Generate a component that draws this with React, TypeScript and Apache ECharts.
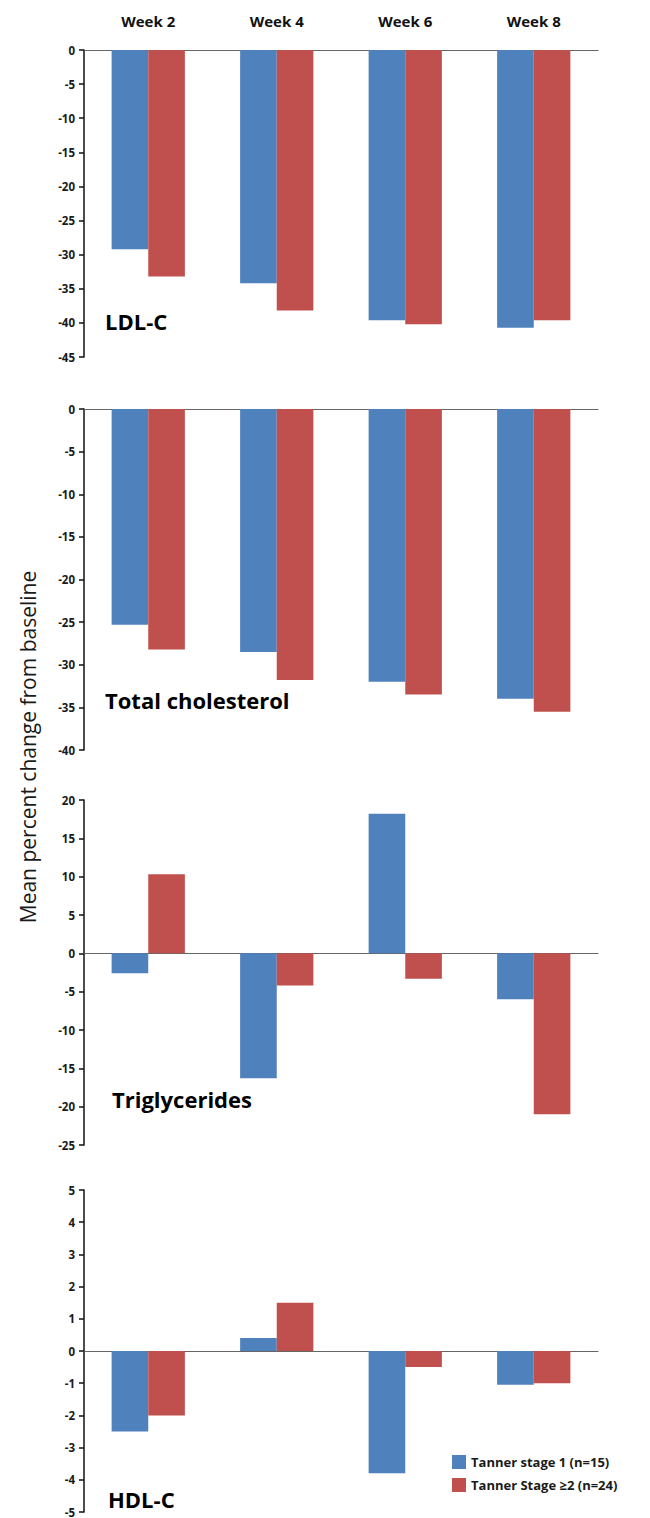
import React, { useEffect, useRef } from "react";
import * as echarts from "echarts";

const weeks = ["Week 2", "Week 4", "Week 6", "Week 8"];
const seriesNames = ["Tanner stage 1 (n=15)", "Tanner Stage ≥2 (n=24)"];
const panelTitles = ["LDL-C", "Total cholesterol", "Triglycerides", "HDL-C"];

const ldlStage1 = [-29.2, -34.2, -39.6, -40.7];
const ldlStage2 = [-33.2, -38.2, -40.2, -39.6];
const tcStage1 = [-25.3, -28.5, -32.0, -34.0];
const tcStage2 = [-28.2, -31.8, -33.5, -35.5];
const tgStage1 = [-2.6, -16.3, 18.2, -6.0];
const tgStage2 = [10.3, -4.2, -3.3, -21.0];
const hdlStage1 = [-2.5, 0.4, -3.8, -1.05];
const hdlStage2 = [-2.0, 1.5, -0.5, -1.0];

const yMins = [-45, -40, -25, -5];
const yMaxs = [0, 0, 20, 5];
const yIntervals = [5, 5, 5, 1];

const BLUE = "#4F81BD";
const RED = "#C0504D";
const FONT = "'Open Sans', 'Noto Sans', sans-serif";

export default function App() {
  const ref = useRef<HTMLDivElement>(null);
  useEffect(() => {
    if (!ref.current) return;
    const chart = echarts.init(ref.current, undefined, { renderer: "svg" });
    const grids = [
      { left: 84, width: 514, top: 50, height: 307 },
      { left: 84, width: 514, top: 409, height: 341 },
      { left: 84, width: 514, top: 800, height: 345 },
      { left: 84, width: 514, top: 1190, height: 322 },
    ];
    const data1 = [ldlStage1, tcStage1, tgStage1, hdlStage1];
    const data2 = [ldlStage2, tcStage2, tgStage2, hdlStage2];
    const titleY = [321, 700, 1099, 1499];
    const titleX = [105, 105, 112, 108];

    const xAxes = grids.map((_, i) => ({
      type: "category",
      gridIndex: i,
      data: weeks,
      position: i === 0 ? "top" : "bottom",
      axisLine: { show: true, onZero: true, lineStyle: { color: "#666", width: 1.2 } },
      axisTick: { show: false },
      axisLabel: {
        show: i === 0,
        color: "#111",
        fontFamily: FONT,
        fontWeight: "bold",
        fontSize: 15,
        margin: 22,
      },
    }));
    const yAxes = grids.map((_, i) => ({
      type: "value",
      gridIndex: i,
      min: yMins[i],
      max: yMaxs[i],
      interval: yIntervals[i],
      axisLine: { show: true, onZero: false, lineStyle: { color: "#111", width: 1.5 } },
      axisTick: { show: true, length: 5, lineStyle: { color: "#111", width: 1.5 } },
      splitLine: { show: false },
      axisLabel: {
        color: "#1a1a1a",
        fontFamily: FONT,
        fontWeight: "bold",
        fontSize: 11.5,
        margin: 9,
      },
    }));
    const series: any[] = [];
    grids.forEach((_, i) => {
      series.push({
        type: "bar",
        name: seriesNames[0],
        xAxisIndex: i,
        yAxisIndex: i,
        data: data1[i],
        itemStyle: { color: BLUE },
        barGap: "0%",
        barCategoryGap: "43%",
      });
      series.push({
        type: "bar",
        name: seriesNames[1],
        xAxisIndex: i,
        yAxisIndex: i,
        data: data2[i],
        itemStyle: { color: RED },
        barGap: "0%",
        barCategoryGap: "43%",
      });
    });

    const graphics: any[] = panelTitles.map((t, i) => ({
      type: "text",
      x: titleX[i],
      y: titleY[i],
      style: {
        text: t,
        fill: "#000",
        font: `bold 22px ${FONT}`,
        verticalAlign: "middle",
      },
    }));
    graphics.push({
      type: "text",
      x: 28,
      y: 747,
      rotation: Math.PI / 2,
      style: {
        text: "Mean percent change from baseline",
        fill: "#1a1a1a",
        font: `21px ${FONT}`,
        align: "center",
        verticalAlign: "middle",
      },
    });

    chart.setOption({
      animation: false,
      backgroundColor: "#fff",
      grid: grids,
      xAxis: xAxes,
      yAxis: yAxes,
      series,
      legend: {
        data: seriesNames,
        orient: "vertical",
        left: 452,
        top: 1455,
        padding: 0,
        itemWidth: 14,
        itemHeight: 14,
        itemGap: 9,
        icon: "rect",
        textStyle: { fontFamily: FONT, fontWeight: "bold", fontSize: 13, color: "#1a1a1a" },
      },
      graphic: graphics,
    });
    return () => chart.dispose();
  }, []);
  return (
    <div
      ref={ref}
      style={{ position: "absolute", left: 0, top: 0, width: 650, height: 1518, background: "#fff" }}
    />
  );
}
